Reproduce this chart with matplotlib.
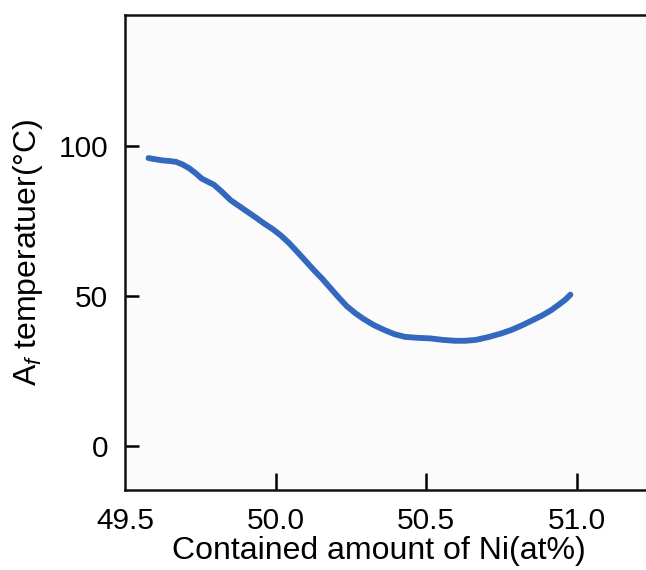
import matplotlib
matplotlib.use("Agg")
import matplotlib.pyplot as plt

plt.rcParams['font.family'] = ['Liberation Sans', 'DejaVu Sans']
plt.rcParams['mathtext.fontset'] = 'custom'
plt.rcParams['mathtext.rm'] = 'Liberation Sans'
plt.rcParams['mathtext.it'] = 'Liberation Sans:italic'

# Ni content (at%) vs Af temperature (deg C)
ni_content = [49.578, 49.600, 49.625, 49.650, 49.670, 49.690, 49.713, 49.735,
              49.754, 49.775, 49.795, 49.820, 49.851, 49.880, 49.906, 49.935,
              49.961, 49.990, 50.017, 50.045, 50.072, 50.100, 50.127, 50.155,
              50.182, 50.210, 50.237, 50.265, 50.292, 50.325, 50.361, 50.395,
              50.430, 50.470, 50.513, 50.555, 50.596, 50.630, 50.665, 50.705,
              50.748, 50.785, 50.817, 50.850, 50.886, 50.915, 50.941, 50.962,
              50.979]
af_temp = [96.1, 95.7, 95.3, 95.1, 94.8, 94.0, 92.7, 91.0,
           89.3, 88.2, 87.2, 85.0, 82.0, 80.0, 78.2, 76.2,
           74.3, 72.4, 70.3, 67.7, 64.8, 61.7, 58.7, 55.8,
           52.7, 49.5, 46.6, 44.3, 42.4, 40.4, 38.7, 37.3,
           36.4, 36.1, 35.9, 35.4, 35.1, 35.1, 35.4, 36.3,
           37.5, 38.8, 40.2, 41.8, 43.6, 45.3, 47.2, 48.8,
           50.5]

x_ticks = [50.0, 50.5, 51.0]
x_ticklabels = ["49.5", "50.0", "50.5", "51.0"]
y_ticks = [0, 50, 100]

fig = plt.figure(figsize=(6.46, 5.70), dpi=100)
ax = fig.add_axes([0.1935, 0.1404, 0.8065, 0.8325])
ax.set_facecolor('#fbfbfb')

ax.plot(ni_content, af_temp, color='#3468be', lw=4.2,
        solid_capstyle='round', solid_joinstyle='round')

ax.set_xlim(49.5, 51.23)
ax.set_ylim(-14.7, 143.7)
ax.set_xticks([49.5] + x_ticks)
ax.set_xticklabels(x_ticklabels)
ax.set_yticks(y_ticks)

ax.spines['right'].set_visible(False)
for s in ['left', 'bottom', 'top']:
    ax.spines[s].set_linewidth(1.8)
    ax.spines[s].set_color('#111111')

ax.tick_params(axis='x', direction='in', length=12, width=1.8, labelsize=21.5, pad=12)
ax.tick_params(axis='y', direction='in', length=10, width=1.8, labelsize=21.5, pad=12)
ax.xaxis.get_major_ticks()[0].tick1line.set_visible(False)

ax.set_xlabel("Contained amount of Ni(at%)", fontsize=23)
ax.xaxis.set_label_coords(0.487, -0.097)
ax.set_ylabel(r"A$_{\it f}$ temperatuer(°C)", fontsize=23, labelpad=10)

fig.savefig("out.png", dpi=100)
